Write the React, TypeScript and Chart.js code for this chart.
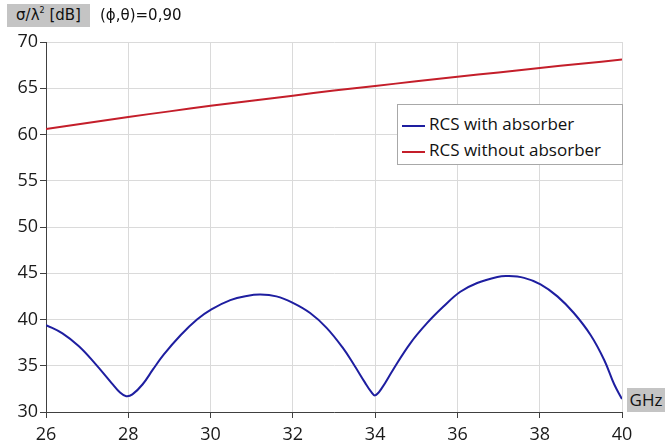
import React, { useEffect, useRef } from "react";
import { Chart, registerables } from "chart.js";

Chart.register(...registerables);

const freqWith = [26.0, 26.4, 26.8, 27.2, 27.6, 27.8, 27.95, 28.1, 28.35, 28.6, 28.86, 29.27, 29.67, 30.02, 30.48, 30.88, 31.21, 31.6, 32.0, 32.42, 32.82, 33.22, 33.5, 33.75, 33.9, 34.0, 34.15, 34.44, 34.85, 35.26, 35.66, 36.07, 36.48, 36.97, 37.21, 37.62, 38.02, 38.43, 38.83, 39.24, 39.57, 39.81, 40.0];
const rcsWith = [39.4, 38.5, 37.1, 35.2, 33.1, 32.1, 31.7, 31.9, 33.0, 34.6, 36.2, 38.3, 40.0, 41.1, 42.1, 42.55, 42.7, 42.5, 41.8, 40.7, 39.1, 36.9, 35.0, 33.2, 32.2, 31.8, 32.5, 34.6, 37.4, 39.6, 41.4, 43.0, 43.95, 44.6, 44.7, 44.5, 43.8, 42.5, 40.7, 38.3, 35.6, 33.0, 31.4];

const freqWithout = [26, 27, 28, 29, 30, 31, 32, 33, 34, 35, 36, 37, 38, 39, 40];
const rcsWithout = [60.6, 61.25, 61.9, 62.5, 63.1, 63.65, 64.2, 64.75, 65.25, 65.75, 66.25, 66.7, 67.2, 67.65, 68.1];

const xTicks = [26, 28, 30, 32, 34, 36, 38, 40];
const yTicks = [30, 35, 40, 45, 50, 55, 60, 65, 70];

const seriesLabels = ["RCS with absorber", "RCS without absorber"];
const seriesColors = ["#1e1ea0", "#c41e2a"];

const tickFont = '"Open Sans", "Noto Sans", sans-serif';

export default function App() {
  const ref = useRef<HTMLCanvasElement | null>(null);

  useEffect(() => {
    if (!ref.current) return;
    const chart = new Chart(ref.current, {
      type: "line",
      data: {
        datasets: [
          {
            label: seriesLabels[0],
            data: freqWith.map((f, i) => ({ x: f, y: rcsWith[i] })),
            borderColor: seriesColors[0],
            borderWidth: 2,
            pointRadius: 0,
            tension: 0.4,
          },
          {
            label: seriesLabels[1],
            data: freqWithout.map((f, i) => ({ x: f, y: rcsWithout[i] })),
            borderColor: seriesColors[1],
            borderWidth: 2,
            pointRadius: 0,
            tension: 0.4,
          },
        ],
      },
      options: {
        animation: false,
        responsive: false,
        maintainAspectRatio: false,
        layout: { padding: { top: 42, right: 43, left: 0, bottom: 0 } },
        plugins: { legend: { display: false }, tooltip: { enabled: false } },
        scales: {
          x: {
            type: "linear",
            min: 26,
            max: 40,
            afterBuildTicks: (s: any) => {
              s.ticks = xTicks.map((v) => ({ value: v }));
            },
            afterFit: (s: any) => {
              s.height = 33;
            },
            grid: { color: "#dadada", tickColor: "#404040", tickLength: 6, lineWidth: 1 },
            border: { color: "#404040", width: 1 },
            ticks: { color: "#1a1a1a", font: { family: tickFont, size: 18 }, padding: 6 },
          },
          y: {
            type: "linear",
            min: 30,
            max: 70,
            afterBuildTicks: (s: any) => {
              s.ticks = yTicks.map((v) => ({ value: v }));
            },
            afterFit: (s: any) => {
              s.width = 46;
            },
            grid: { color: "#dadada", tickColor: "#404040", tickLength: 6, lineWidth: 1 },
            border: { color: "#404040", width: 1 },
            ticks: { color: "#1a1a1a", font: { family: tickFont, size: 18 }, padding: 2 },
          },
        },
      },
    });
    return () => chart.destroy();
  }, []);

  return (
    <div style={{ position: "absolute", left: 0, top: 0, width: 665, height: 445, background: "#fff" }}>
      <canvas ref={ref} width={665} height={445} style={{ position: "absolute", left: 0, top: 0 }} />
      <div
        style={{
          position: "absolute",
          left: 7,
          top: 4,
          width: 83,
          height: 23,
          background: "#c4c4c4",
          fontFamily: '"DejaVu Sans", sans-serif',
          fontSize: 15,
          lineHeight: "23px",
          color: "#111",
          textAlign: "center",
          whiteSpace: "nowrap",
        }}
      >
        σ/λ<sup style={{ fontSize: 8, verticalAlign: "top", lineHeight: "14px" }}>2</sup> [dB]
      </div>
      <div
        style={{
          position: "absolute",
          left: 100,
          top: 4,
          height: 23,
          fontFamily: '"DejaVu Sans", sans-serif',
          fontSize: 15,
          lineHeight: "23px",
          color: "#111",
          whiteSpace: "nowrap",
        }}
      >
        (ϕ,θ)=0,90
      </div>
      <div
        style={{
          position: "absolute",
          left: 627,
          top: 388,
          width: 38,
          height: 24,
          background: "#c4c4c4",
          fontFamily: tickFont,
          fontSize: 17,
          lineHeight: "24px",
          color: "#111",
          textAlign: "center",
          whiteSpace: "nowrap",
        }}
      >
        GHz
      </div>
      <div
        style={{
          position: "absolute",
          left: 397,
          top: 104,
          width: 224,
          height: 59,
          border: "1px solid #a8a8a8",
          background: "#fff",
          fontFamily: tickFont,
          fontSize: 17,
          color: "#111",
        }}
      >
        {seriesLabels.map((lab, i) => (
          <div
            key={lab}
            style={{ position: "absolute", left: 4, top: 7 + i * 26, height: 22, display: "flex", alignItems: "center", whiteSpace: "nowrap" }}
          >
            <span style={{ display: "inline-block", width: 23, height: 2, background: seriesColors[i], marginRight: 4, marginTop: 6 }} />
            <span>{lab}</span>
          </div>
        ))}
      </div>
    </div>
  );
}
